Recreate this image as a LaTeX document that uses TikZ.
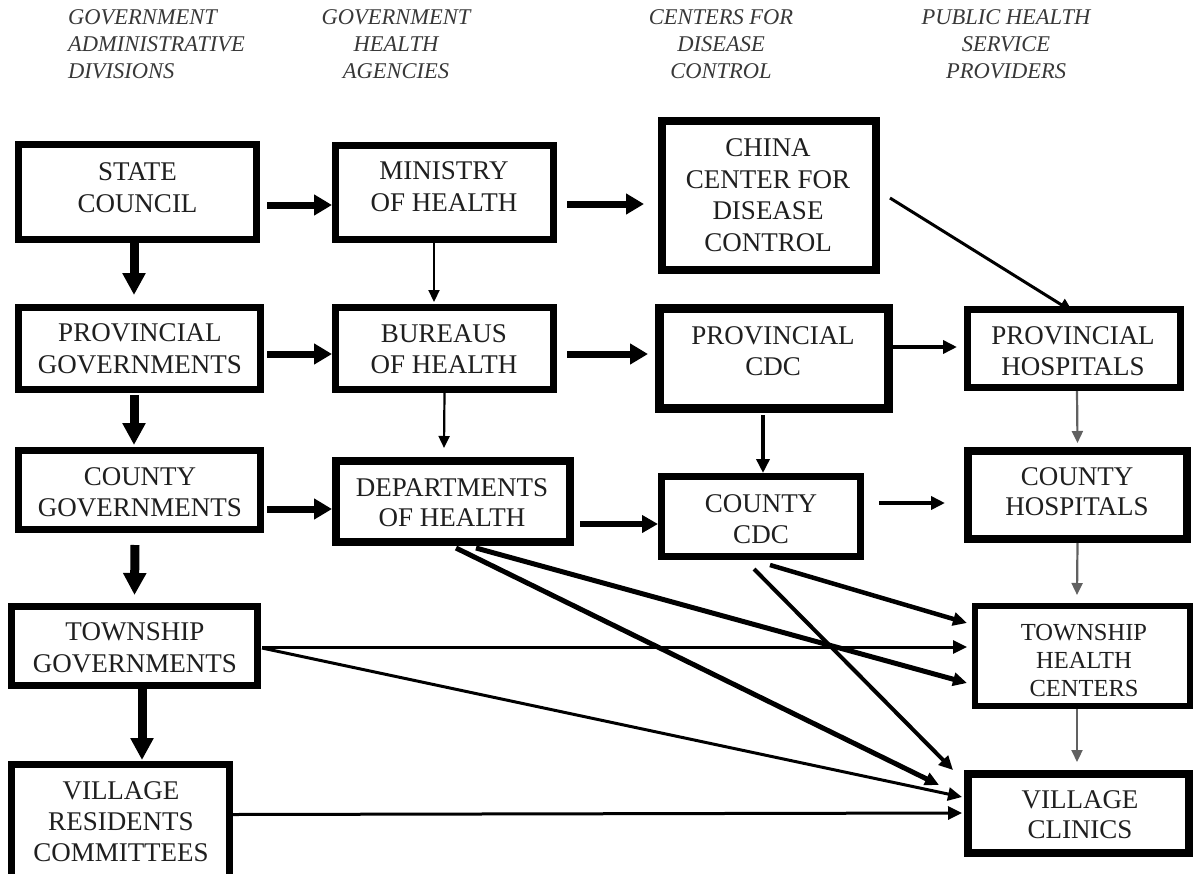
\documentclass[tikz,border=0pt]{standalone}
\usepackage{fontspec}
\usetikzlibrary{arrows.meta,calc}
\newfontfamily\tnr{Liberation Serif}
\newcommand\boxfont{\tnr\fontsize{27}{31.5}\selectfont}
\newcommand\hdrfont{\tnr\itshape\fontsize{22.5}{27}\selectfont}
\begin{document}
\begin{tikzpicture}[x=1pt,y=-1pt,
  box/.style={draw=black, line width=#1, inner sep=0pt, rectangle},
  lbl/.style={font=\boxfont, align=center, inner sep=0pt, text=black!88},
  hdr/.style={font=\hdrfont, inner sep=0pt, text=black!78},
  hA/.style={line width=7pt, -{Triangle[length=18pt,width=20pt]}},
  vA/.style={line width=9pt, -{Triangle[length=22pt,width=22pt]}},
  tA/.style={line width=2.2pt, -{Triangle[length=12pt,width=11pt]}},
  mA/.style={line width=3.5pt, -{Triangle[length=14pt,width=13pt]}},
  dA/.style={line width=#1, -{Triangle[length=14pt,width=13pt]}},
  gcol/.style={draw=black!62}
]
\useasboundingbox (0,0) rectangle (1194,873);
\fill[white] (0,0) rectangle (1194,873);

% headers
\node[hdr, align=left, anchor=west] (h1) at (68,44) {GOVERNMENT\\ADMINISTRATIVE\\DIVISIONS};
\node[hdr, align=center] (h2) at (396,44) {GOVERNMENT\\HEALTH\\AGENCIES};
\node[hdr, align=center] (h3) at (721,44) {CENTERS FOR\\DISEASE\\CONTROL};
\node[hdr, align=center] (h4) at (1006,44) {PUBLIC HEALTH\\SERVICE\\PROVIDERS};

% boxes
\node[box=7pt, minimum width=238pt, minimum height=95pt] (sc) at (137.5,192) {};
\node[box=7pt, minimum width=218pt, minimum height=94pt] (moh) at (444.5,192.5) {};
\node[box=8pt, minimum width=214pt, minimum height=149pt] (ccdc) at (769,195.5) {};
\node[box=7pt, minimum width=242pt, minimum height=82pt] (pg) at (139.5,348.5) {};
\node[box=7pt, minimum width=218pt, minimum height=82pt] (boh) at (444.5,348.5) {};
\node[box=9pt, minimum width=229pt, minimum height=100pt] (pcdc) at (774,358.5) {};
\node[box=7pt, minimum width=213pt, minimum height=78pt] (ph) at (1074,348.5) {};
\node[box=7pt, minimum width=242pt, minimum height=79pt] (cg) at (139.5,490) {};
\node[box=8pt, minimum width=234pt, minimum height=81pt] (doh) at (453,501.5) {};
\node[box=7pt, minimum width=199pt, minimum height=80pt] (ccdc2) at (761,516.5) {};
\node[box=8pt, minimum width=219pt, minimum height=88pt] (ch) at (1077.5,495) {};
\node[box=7pt, minimum width=246pt, minimum height=79pt] (tg) at (134.5,646) {};
\node[box=6pt, minimum width=215pt, minimum height=100pt] (thc) at (1082.5,656) {};
\node[box=7pt, minimum width=218pt, minimum height=132pt] (vrc) at (120.5,830.5) {};
\node[box=8pt, minimum width=221pt, minimum height=79pt] (vc) at (1078.5,813.5) {};

% labels
\node[lbl] (sct) at (137.5,187.5) {STATE\\COUNCIL};
\node[lbl] (moht) at (444,186.5) {MINISTRY\\OF HEALTH};
\node[lbl] (ccdct) at (768,195) {CHINA\\CENTER FOR\\DISEASE\\CONTROL};
\node[lbl] (pgt) at (140,349) {PROVINCIAL\\GOVERNMENTS};
\node[lbl] (boht) at (444,349) {BUREAUS\\OF HEALTH};
\node[lbl] (pcdct) at (773,351) {PROVINCIAL\\CDC};
\node[lbl] (pht) at (1073,351) {PROVINCIAL\\HOSPITALS};
\node[lbl] (cgt) at (140,492.5) {COUNTY\\GOVERNMENTS};
\node[lbl, font=\tnr\fontsize{27}{30}\selectfont] (doht) at (452,503) {DEPARTMENTS\\OF HEALTH};
\node[lbl] (ccdc2t) at (761,519) {COUNTY\\CDC};
\node[lbl, font=\tnr\fontsize{27}{30}\selectfont] (cht) at (1077,492) {COUNTY\\HOSPITALS};
\node[lbl] (tgt) at (135,648) {TOWNSHIP\\GOVERNMENTS};
\node[lbl, font=\tnr\fontsize{24.5}{28}\selectfont] (thct) at (1084,660) {TOWNSHIP\\HEALTH\\CENTERS};
\node[lbl, font=\tnr\fontsize{27}{31}\selectfont] (vrct) at (121,822) {VILLAGE\\RESIDENTS\\COMMITTEES};
\node[lbl, font=\tnr\fontsize{27}{29.5}\selectfont] (vct) at (1080,814.5) {VILLAGE\\CLINICS};

% thick horizontal arrows
\draw[hA] ($(sc.east)+(7,13)$) -- ($(moh.west)+(0,12.5)$);
\draw[hA] ($(moh.east)+(10,11.5)$) -- ($(ccdc.west)+(-14,8.5)$);
\draw[hA] ($(pg.east)+(3,5.5)$) -- ($(boh.west)+(0,5.5)$);
\draw[hA] ($(boh.east)+(10,5.5)$) -- ($(pcdc.west)+(-7,-4.5)$);
\draw[hA] ($(cg.east)+(3,19)$) -- ($(doh.west)+(0,7.5)$);
\draw[line width=6pt, -{Triangle[length=16pt,width=17pt]}] ($(doh.east)+(6,22.5)$) -- ($(ccdc2.west)+(0,7.5)$);

% thick vertical arrows (left column)
\draw[vA] ($(sc.south)+(-3.5,0)$) -- ($(pg.north)+(-5.5,-9)$);
\draw[vA] ($(pg.south)+(-5.5,2)$) -- ($(cg.north)+(-5.5,-2)$);
\draw[vA] ($(cg.south)+(-4.5,12)$) -- ($(tg.north)+(0,-8)$);
\draw[vA] ($(tg.south)+(7.5,0)$) -- ($(vrc.north)+(21.5,-1)$);

% thin vertical arrows
\draw[tA] ($(moh.south)+(-10.5,0)$) -- ($(boh.north)+(-10.5,-2)$);
\draw[tA] (boh.south) -- ($(doh.north)+(-9,-9)$);
\draw[tA, gcol] ($(ph.south)+(3,0)$) -- ($(ch.north)+(0,-4)$);
\draw[tA, gcol] (ch.south) -- ($(thc.north)+(-5.5,-8)$);
\draw[tA, gcol] ($(thc.south)+(-5.5,0)$) -- ($(vc.north)+(-1.5,-8)$);

% medium arrows
\draw[mA] ($(pcdc.east)+(0,-11.5)$) -- ($(ph.west)+(-7,-1.5)$);
\draw[mA] ($(pcdc.south)+(-11,2)$) -- ($(ccdc2.north)+(2,0)$);
\draw[mA] ($(ccdc2.east)+(15,-13.5)$) -- ($(ch.west)+(-19,8)$);

% diagonal and long arrows
\draw[dA=3pt] ($(ccdc.east)+(10,2.5)$) -- ($(ph.north)+(-1,6)$);
\draw[dA=4.5pt] ($(ccdc2.south)+(9,5)$) -- ($(thc.west)+(-5,-33)$);
\draw[dA=4pt] ($(ccdc2.south)+(-7,9)$) -- ($(vc.west)+(-11,-43.5)$);
\draw[dA=5pt] ($(doh.south)+(23,2)$) -- ($(thc.west)+(-5,27)$);
\draw[dA=5pt] ($(doh.south)+(3,2)$) -- ($(vc.west)+(-25,-28.5)$);
\draw[dA=3pt] ($(tg.east)+(1,1)$) -- ($(thc.west)+(-5,-9)$);
\draw[dA=3pt] ($(tg.east)+(1,2)$) -- ($(vc.west)+(-2,-16.5)$);
\draw[dA=3pt] ($(vrc.east)+(0,-16)$) -- ($(vc.west)+(-2,-0.5)$);
\end{tikzpicture}
\end{document}
